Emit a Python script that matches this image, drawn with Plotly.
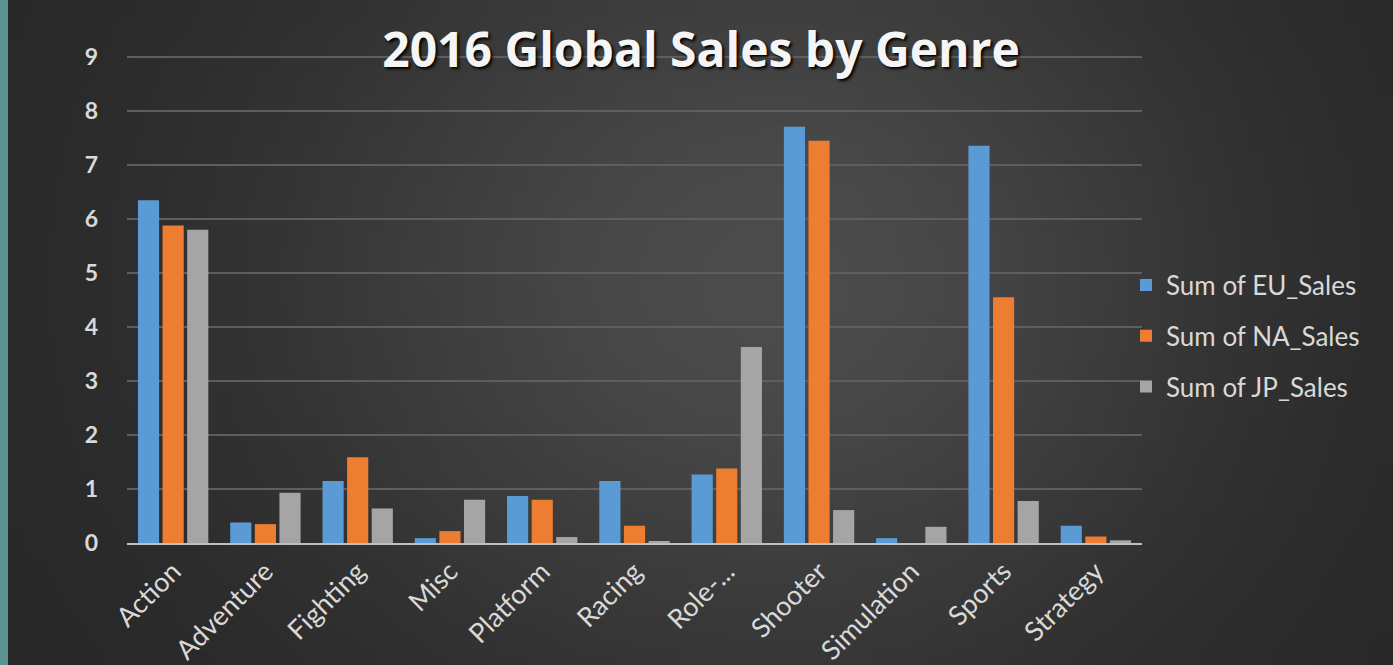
import base64, math, struct, zlib
import plotly.graph_objects as go

genres = ["Action", "Adventure", "Fighting", "Misc", "Platform", "Racing",
          "Role-...", "Shooter", "Simulation", "Sports", "Strategy"]
eu_sales = [6.35, 0.38, 1.15, 0.09, 0.87, 1.15, 1.27, 7.71, 0.09, 7.36, 0.32]
na_sales = [5.88, 0.35, 1.59, 0.22, 0.80, 0.32, 1.38, 7.45, 0.00, 4.55, 0.12]
jp_sales = [5.80, 0.93, 0.64, 0.80, 0.11, 0.02, 3.63, 0.61, 0.30, 0.78, 0.05]
y_ticks = [0, 1, 2, 3, 4, 5, 6, 7, 8, 9]

W, H = 1393, 665
L, R, T, B = 127, 251, 56, 122
PW, PH = W - L - R, H - T - B

# ---- background gradient PNG (decoration) ----
def make_bg(iw=140, ih=67):
    rows = b""
    for j in range(ih):
        y = (j + 0.5) / ih * H
        row = bytearray([0])
        for i in range(iw):
            x = 8 + (i + 0.5) / iw * (W - 8)
            sx = 520 if x < 780 else 450
            v = 38 + 38 * math.exp(-((x - 780) / sx) ** 2 - ((y - 280) / 420) ** 2)
            row.append(max(0, min(255, int(v))))
        rows += bytes(row)
    def chunk(t, d):
        c = struct.pack(">I", len(d)) + t + d
        return c + struct.pack(">I", zlib.crc32(t + d) & 0xffffffff)
    png = b"\x89PNG\r\n\x1a\n" + chunk(b"IHDR", struct.pack(">IIBBBBB", iw, ih, 8, 0, 0, 0, 0))
    png += chunk(b"IDAT", zlib.compress(rows)) + chunk(b"IEND", b"")
    return "data:image/png;base64," + base64.b64encode(png).decode()

bg = make_bg()

fig = go.Figure()
series = [("Sum of EU_Sales", eu_sales, "#5b9bd5"),
          ("Sum of NA_Sales", na_sales, "#ed7d31"),
          ("Sum of JP_Sales", jp_sales, "#a5a5a5")]
for name, vals, col in series:
    fig.add_trace(go.Bar(x=genres, y=vals, name=name, legendgroup=name,
                         marker=dict(color=col, line=dict(width=0))))

fig.update_layout(
    width=W, height=H,
    margin=dict(l=L, r=R, t=T, b=B, pad=0, autoexpand=False),
    paper_bgcolor="#5b9191",
    plot_bgcolor="rgba(0,0,0,0)",
    barmode="group", bargap=0.2, bargroupgap=0.14,
    font=dict(family="Lato, Open Sans, sans-serif", color="#d9d9d9"),
    title=dict(text="<b>2016 Global Sales by Genre</b>",
               x=(701 - L) / PW, xref="paper", xanchor="center",
               y=1 - 50 / H, yref="container", yanchor="middle",
               font=dict(family="Open Sans, sans-serif", size=48, color="#f5f5f5",
                         shadow="2px 2px 3px #000000")),
    showlegend=True,
    legend=dict(x=(1126 - L) / PW, xanchor="left", y=(543 - 336) / PH, yanchor="middle",
                xref="paper", yref="paper",
                bgcolor="rgba(0,0,0,0)", tracegroupgap=14,
                font=dict(size=26, color="#d9d9d9", family="Lato, sans-serif"),
                itemwidth=30),
    images=[dict(source=bg, xref="paper", yref="paper",
                 x=(8 - L) / PW, y=1 + T / PH,
                 sizex=(W - 8) / PW, sizey=H / PH,
                 sizing="stretch", xanchor="left", yanchor="top",
                 layer="below")],
)
fig.update_xaxes(showgrid=False, showline=True, linecolor="#bfbfbf", linewidth=2,
                 tickangle=-45, ticks="", tickfont=dict(size=27, color="#d9d9d9"),
                 zeroline=False, automargin=False)
fig.update_yaxes(range=[0, 9.02], tickvals=y_ticks, showgrid=True, gridcolor="#5e5e5e",
                 gridwidth=1.5, zeroline=False, showline=False, ticks="",
                 ticklabelstandoff=28, automargin=False,
                 tickfont=dict(size=23, color="#d9d9d9", family="Lato, sans-serif", weight="bold"))

fig.write_html("out.html")
